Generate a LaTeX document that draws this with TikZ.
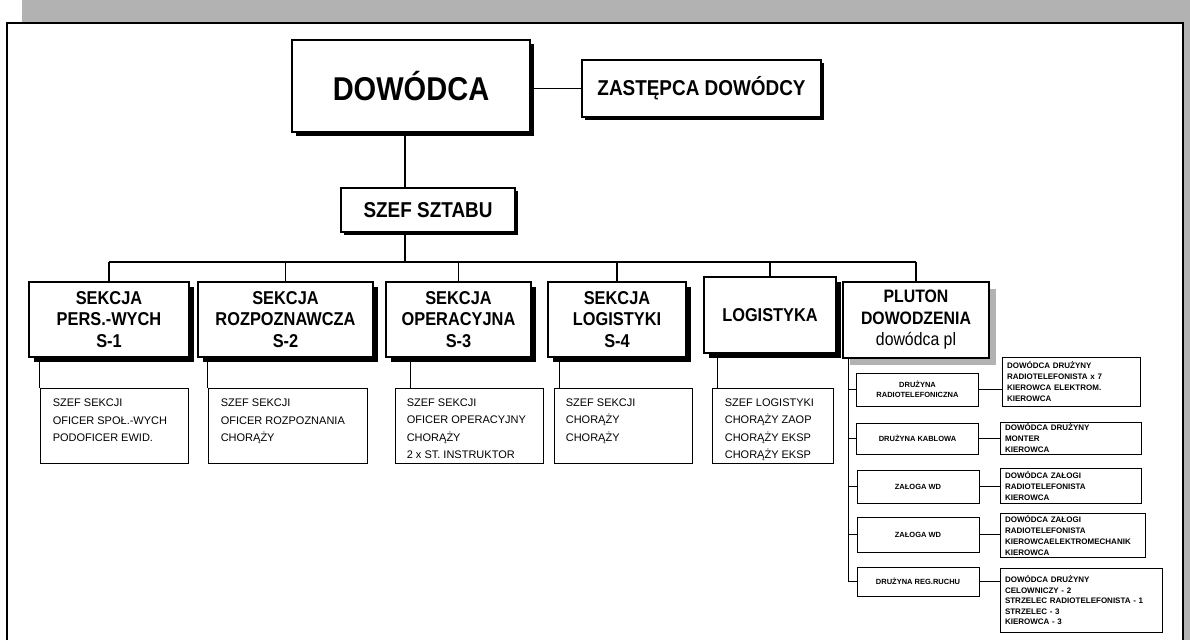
\documentclass[tikz,border=0pt]{standalone}
\usepackage{fontspec}
\setmainfont{Liberation Sans}
\newfontfamily\cond{Liberation Sans}[FakeStretch=0.88]
\usetikzlibrary{shadows}
\begin{document}
\begin{tikzpicture}[x=1pt,y=-1pt,
  bx/.style={draw=black, fill=white, line width=1.2pt, inner sep=0pt, align=center},
  shd/.style={general shadow={fill=black, shadow xshift=#1, shadow yshift=-#1}},
  shd/.default=4pt,
  sec/.style={bx, shd=5pt, minimum height=75pt, font=\cond\fontsize{18.6}{21.5}\selectfont\bfseries},
  det/.style={draw=black, line width=0.8pt, fill=white, inner sep=0pt, minimum height=75pt},
  dtxt/.style={anchor=north west, inner sep=0pt, align=left, font=\fontsize{11}{17.3}\selectfont},
  sl/.style={draw=black, line width=0.8pt, fill=white, inner sep=0pt, align=center, minimum width=122pt, font=\fontsize{7.5}{10}\selectfont\bfseries},
  sr/.style={draw=black, line width=0.8pt, fill=white, inner xsep=5pt, inner ysep=0pt, align=left, font=\fontsize{8}{11}\selectfont\bfseries},
  ln/.style={line width=1.4pt},
  lt/.style={line width=0.9pt}
]
\useasboundingbox (0,0) rectangle (1190,640);
% scanned frame
\fill[black!30] (22,0) rectangle (1190,22);
\fill[black!30] (1184,0) rectangle (1190,640);
\draw[line width=2pt] (7,640) -- (7,23) -- (1183,23) -- (1183,640);

% top
\node[bx, shd=3.5pt, minimum width=238pt, minimum height=92pt, font=\cond\fontsize{33}{38}\selectfont\bfseries] (dow) at (411,86) {DOWÓDCA};
\node[bx, shd=3pt, minimum width=239pt, minimum height=57pt, font=\cond\fontsize{21.5}{25}\selectfont\bfseries] (zast) at (701.5,88.5) {ZASTĘPCA DOWÓDCY};
\node[bx, shd=3pt, minimum width=174pt, minimum height=44pt, font=\cond\fontsize{21.5}{25}\selectfont\bfseries] (szef) at (428,210) {SZEF SZTABU};
\coordinate (trunk) at (405,262);

% sections
\node[sec, minimum width=160pt] (s1) at (109,319.5) {SEKCJA\\PERS.-WYCH\\S-1};
\node[sec, minimum width=175pt] (s2) at (285.5,319.5) {SEKCJA\\ROZPOZNAWCZA\\S-2};
\node[sec, minimum width=145pt] (s3) at (458.5,319.5) {SEKCJA\\OPERACYJNA\\S-3};
\node[sec, minimum width=138pt] (s4) at (617,319.5) {SEKCJA\\LOGISTYKI\\S-4};
\node[sec, minimum width=132pt, minimum height=76pt] (log) at (770,315) {LOGISTYKA};
\node[bx, minimum width=146pt, minimum height=76pt, font=\cond\fontsize{18}{21.5}\selectfont\bfseries,
  general shadow={fill=black!30, shadow xshift=7pt, shadow yshift=-7pt}] (plut) at (916,320) {PLUTON\\DOWODZENIA\\{\mdseries dowódca pl}};

% detail boxes
\node[det, minimum width=148pt] (d1) at (114,426) {};
\node[dtxt] (d1t) at ([xshift=13pt,yshift=-11pt]d1.north west) {SZEF SEKCJI\\OFICER SPOŁ.-WYCH\\PODOFICER EWID.};
\node[det, minimum width=159pt] (d2) at (287.5,426) {};
\node[dtxt] (d2t) at ([xshift=13pt,yshift=-11pt]d2.north west) {SZEF SEKCJI\\OFICER ROZPOZNANIA\\CHORĄŻY};
\node[det, minimum width=148pt] (d3) at (469,425.5) {};
\node[dtxt] (d3t) at ([xshift=12pt,yshift=-11pt]d3.north west) {SZEF SEKCJI\\OFICER OPERACYJNY\\CHORĄŻY\\2 x ST. INSTRUKTOR};
\node[det, minimum width=138pt] (d4) at (623,425.5) {};
\node[dtxt] (d4t) at ([xshift=12pt,yshift=-11pt]d4.north west) {SZEF SEKCJI\\CHORĄŻY\\CHORĄŻY};
\node[det, minimum width=121pt] (d5) at (772.5,425.5) {};
\node[dtxt] (d5t) at ([xshift=13pt,yshift=-11pt]d5.north west) {SZEF LOGISTYKI\\CHORĄŻY ZAOP\\CHORĄŻY EKSP\\CHORĄŻY EKSP};

% pluton sub-units
\node[sl, minimum height=33pt] (l1) at (917.5,389.5) {DRUŻYNA\\RADIOTELEFONICZNA};
\node[sl, minimum height=31pt] (l2) at (917.5,438.5) {DRUŻYNA KABLOWA};
\node[sl, minimum height=33pt] (l3) at (918,486.5) {ZAŁOGA WD};
\node[sl, minimum height=35pt] (l4) at (918,534.5) {ZAŁOGA WD};
\node[sl, minimum height=29pt] (l5) at (918,581.5) {DRUŻYNA REG.RUCHU};

\node[sr, text width=128pt, minimum height=49pt] (r1) at (1071,381.5) {DOWÓDCA DRUŻYNY\\RADIOTELEFONISTA x 7\\KIEROWCA ELEKTROM.\\KIEROWCA};
\node[sr, text width=131pt, minimum height=32pt] (r2) at (1070.5,438) {DOWÓDCA DRUŻYNY\\MONTER\\KIEROWCA};
\node[sr, text width=131pt, minimum height=35pt] (r3) at (1070.5,485.5) {DOWÓDCA ZAŁOGI\\RADIOTELEFONISTA\\KIEROWCA};
\node[sr, text width=135pt, minimum height=44pt] (r4) at (1072.5,535) {DOWÓDCA ZAŁOGI\\RADIOTELEFONISTA\\KIEROWCAELEKTROMECHANIK\\KIEROWCA};
\node[sr, text width=152pt, minimum height=64pt, font=\fontsize{8}{10.5}\selectfont\bfseries] (r5) at (1081,600) {DOWÓDCA DRUŻYNY\\CELOWNICZY - 2\\STRZELEC RADIOTELEFONISTA - 1\\STRZELEC - 3\\KIEROWCA - 3};

% connectors
\draw[ln] (dow.east |- zast.west) -- (zast.west);
\draw[ln] (dow.south -| trunk) -- (szef.north -| trunk);
\draw[ln] (szef.south -| trunk) -- (trunk);
\draw[ln] (s1.north |- trunk) -- (plut.north |- trunk);
\foreach \n in {s1,s2,s3,s4,log,plut} \draw[ln] (\n.north |- trunk) -- (\n.north);

\draw[lt] (d1.north west) -- (d1.north west |- s1.south);
\draw[lt] (d2.north west) -- (d2.north west |- s2.south);
\draw[lt] ([xshift=16pt]d3.north west) -- ([xshift=16pt]d3.north west |- s3.south);
\draw[lt] ([xshift=6pt]d4.north west) -- ([xshift=6pt]d4.north west |- s4.south);
\draw[lt] ([xshift=6pt]d5.north west) -- ([xshift=6pt]d5.north west |- log.south);

\coordinate (pv) at (848,358);
\draw[lt] (pv) -- (pv |- l5.west);
\foreach \n in {l1,l2,l3,l4,l5} \draw[lt] (pv |- \n.west) -- (\n.west);
\foreach \a/\b in {l1/r1,l2/r2,l3/r3,l4/r4,l5/r5} \draw[lt] (\a.east) -- (\b.west |- \a.east);
\end{tikzpicture}
\end{document}
